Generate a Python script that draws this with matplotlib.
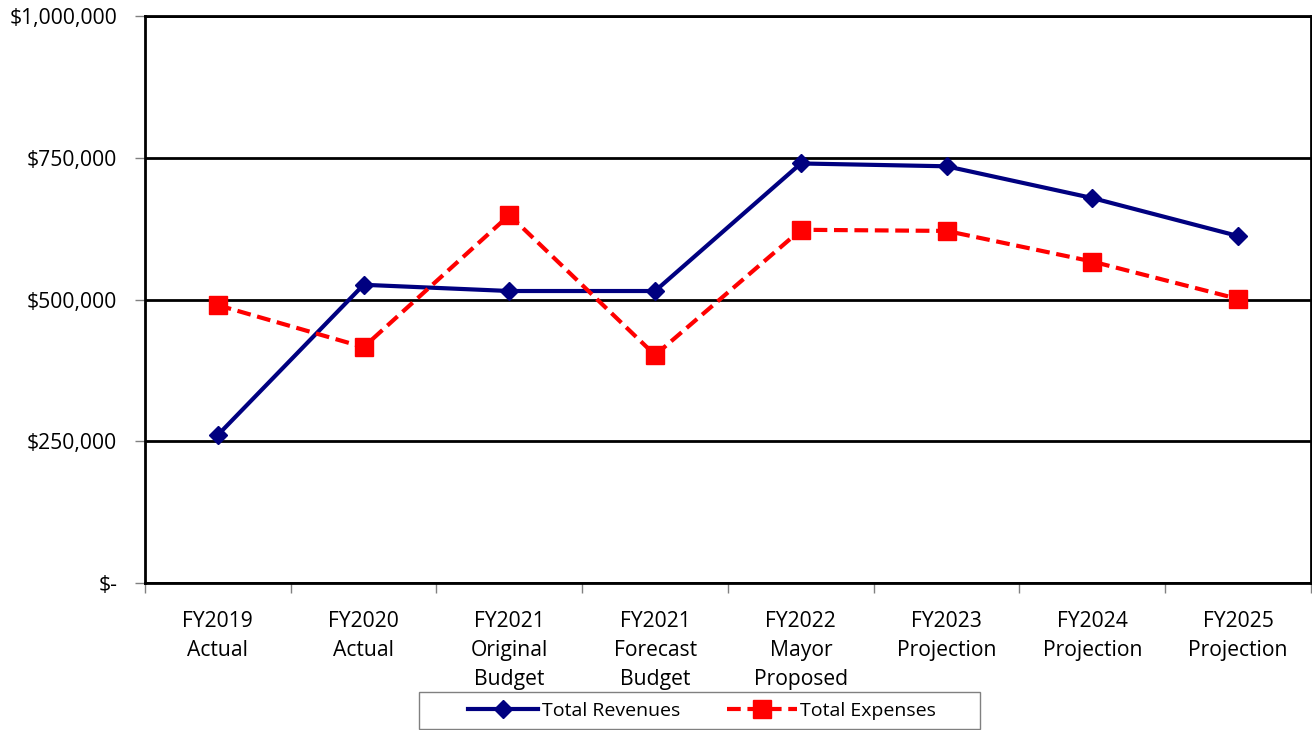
import numpy as np
import matplotlib
matplotlib.use("Agg")
from matplotlib import pyplot as plt
from matplotlib.ticker import FuncFormatter, FixedLocator
from matplotlib.patches import Rectangle

categories = ["FY2019\nActual", "FY2020\nActual", "FY2021\nOriginal\nBudget",
              "FY2021\nForecast\nBudget", "FY2022\nMayor\nProposed",
              "FY2023\nProjection", "FY2024\nProjection", "FY2025\nProjection"]
revenues = [261000, 526000, 515000, 515000, 740000, 735000, 679000, 612000]
expenses = [490000, 416000, 649000, 402000, 623000, 621000, 567000, 501000]

plt.rcParams['font.family'] = ['Open Sans', 'DejaVu Sans']

fig = plt.figure(figsize=(13.12, 7.3), dpi=100)
ax = fig.add_axes([0.1105, 0.2014, 0.8887, 0.7766])

x = np.arange(len(categories))
ax.plot(x, revenues, color="#000080", lw=3, marker="D", ms=9.5, label="Total Revenues", zorder=3)
ax.plot(x, expenses, color="#ff0000", lw=3, ls=(0, (3.3, 1.6)), marker="s", ms=13,
        label="Total Expenses", zorder=3)

ax.set_xlim(-0.5, len(categories) - 0.5)
ax.set_ylim(0, 1000000)
ax.set_yticks([0, 250000, 500000, 750000, 1000000])

def money(v, pos):
    if v == 0:
        return "$-"
    return "${:,.0f}".format(v)

ax.yaxis.set_major_formatter(FuncFormatter(money))
ax.yaxis.grid(True, color="black", lw=2)
ax.set_axisbelow(True)

ax.set_xticks(x)
ax.set_xticklabels(categories, linespacing=1.5)
ax.xaxis.set_minor_locator(FixedLocator(np.arange(-0.5, len(categories), 1)))
ax.tick_params(axis="x", which="major", length=0, pad=20, labelsize=15.2)
ax.tick_params(axis="x", which="minor", length=7, width=1, color="#808080")
ax.tick_params(axis="y", length=7, width=1, color="#808080", labelsize=15.2, pad=13)

for s in ax.spines.values():
    s.set_linewidth(2)
    s.set_color("black")

# legend box drawn separately (Excel style, wide side padding)
fig.patches.append(Rectangle((419 / 1312, 1 / 730), 561 / 1312, 37 / 730,
                             transform=fig.transFigure, fill=False,
                             edgecolor="#808080", lw=1))
leg = fig.legend(loc="center", bbox_to_anchor=(702 / 1312, 19 / 730), ncol=2,
                 fontsize=14, frameon=False, handlelength=3.6, handletextpad=0.2,
                 columnspacing=2.4, borderpad=0.2)

fig.savefig("out.png", dpi=100)
